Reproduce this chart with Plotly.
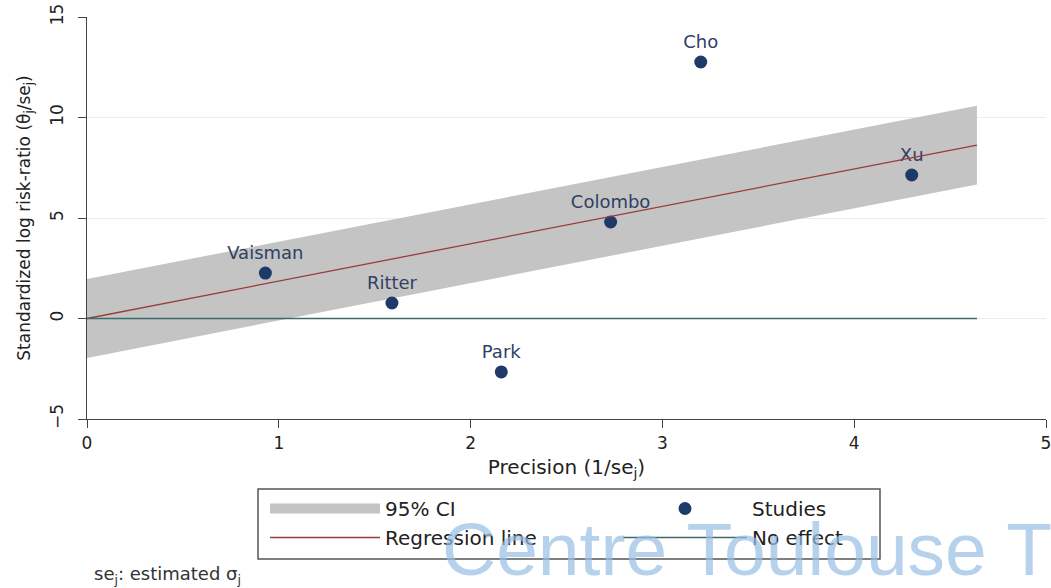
import plotly.graph_objects as go

# ---- data ----
studies = ["Vaisman", "Ritter", "Park", "Colombo", "Cho", "Xu"]
precision = [0.93, 1.59, 2.16, 2.73, 3.20, 4.30]          # 1/se_j
std_effect = [2.26, 0.77, -2.66, 4.80, 12.76, 7.14]       # theta_j/se_j
reg_slope = 1.86          # fitted slope of regression line (through origin)
ci_halfwidth = 1.96       # 95% CI band around the line
line_x = [0, 4.64]        # x extent of line, band and no-effect line
x_ticks = [0, 1, 2, 3, 4, 5]
y_ticks = [-5, 0, 5, 10, 15]

FONT = "DejaVu Sans"
reg_y = [reg_slope * v for v in line_x]
band_x = line_x + line_x[::-1]
band_y = [v + ci_halfwidth for v in reg_y] + [v - ci_halfwidth for v in reg_y[::-1]]

fig = go.Figure()

# CI band (plot)
fig.add_trace(go.Scatter(x=band_x, y=band_y, fill="toself", fillcolor="#c4c4c4",
                         line=dict(width=0, color="#c4c4c4"), mode="lines",
                         hoverinfo="skip", showlegend=False))
# legend key for CI band
fig.add_trace(go.Scatter(x=[None], y=[None], mode="lines", name="95% CI",
                         line=dict(color="#c4c4c4", width=20), legend="legend"))
# Studies
fig.add_trace(go.Scatter(x=precision, y=std_effect, mode="markers+text", text=studies,
                         textposition="top center",
                         textfont=dict(family=FONT, size=18, color="#2e4163"),
                         marker=dict(color="#1d3a68", size=13),
                         name="Studies", legend="legend2"))
# Regression line
fig.add_trace(go.Scatter(x=line_x, y=reg_y, mode="lines", name="Regression line",
                         line=dict(color="#9a3b3b", width=1.3), legend="legend"))
# No effect
fig.add_trace(go.Scatter(x=line_x, y=[0, 0], mode="lines", name="No effect",
                         line=dict(color="#3f6a6a", width=1.3), legend="legend2"))

W, H = 1051, 588
L, R, T = 87, 5, 17
B = H - 419
pw, ph = W - L - R, H - T - B

def px(xp):
    return (xp - L) / pw

def py(yp):
    return (H - B - yp) / ph

legend_common = dict(xanchor="left", yanchor="top", bgcolor="rgba(0,0,0,0)",
                     borderwidth=0, font=dict(family=FONT, size=20, color="#222222"),
                     traceorder="normal")

fig.update_layout(
    width=W, height=H,
    margin=dict(l=L, r=R, t=T, b=B, autoexpand=False),
    paper_bgcolor="white", plot_bgcolor="white",
    font=dict(family=FONT, color="#222222"),
    legend=dict(x=px(265), y=py(489), itemwidth=110, **legend_common),
    legend2=dict(x=px(618), y=py(489), itemwidth=124, **legend_common),
    xaxis=dict(range=[0, 5], tickvals=x_ticks, showgrid=False, zeroline=False,
               showline=True, linecolor="#444444", linewidth=1.3,
               ticks="outside", ticklen=8, tickcolor="#444444", tickwidth=1.3,
               ticklabeloverflow="allow",
               tickfont=dict(family=FONT, size=17, color="#222222"),
               title=dict(text="Precision (1/se<sub>j</sub>)",
                          font=dict(family=FONT, size=20, color="#222222"),
                          standoff=8),
               automargin=True),
    yaxis=dict(range=[-5, 15], tickvals=y_ticks, showgrid=True, gridcolor="#ececec",
               gridwidth=1, zeroline=False,
               showline=True, linecolor="#444444", linewidth=1.3,
               ticks="outside", ticklen=8, tickcolor="#444444", tickwidth=1.3,
               tickangle=-90, ticklabelstandoff=8, ticklabeloverflow="allow",
               tickfont=dict(family=FONT, size=17, color="#222222"),
               title=dict(text="Standardized log risk-ratio (θ<sub>j</sub>/se<sub>j</sub>)",
                          font=dict(family=FONT, size=17, color="#222222"),
                          standoff=12),
               automargin=True),
    shapes=[dict(type="rect", xref="paper", yref="paper",
                 x0=px(258), x1=px(880), y0=py(559), y1=py(489),
                 line=dict(color="#555555", width=1.5), fillcolor="rgba(0,0,0,0)")],
    annotations=[
        dict(text="se<sub>j</sub>: estimated σ<sub>j</sub>", xref="paper", yref="paper",
             x=px(92), y=py(575), xanchor="left", yanchor="middle", showarrow=False,
             font=dict(family=FONT, size=18, color="#333333")),
        dict(text="Centre Toulouse T", xref="paper", yref="paper",
             x=px(440), y=py(549), xanchor="left", yanchor="middle", showarrow=False,
             font=dict(family="Liberation Sans", size=75,
                       color="rgba(150,190,228,0.7)")),
    ],
)

fig.write_html("out.html", config={"displayModeBar": False},
               post_script="document.body.style.margin='0';")
